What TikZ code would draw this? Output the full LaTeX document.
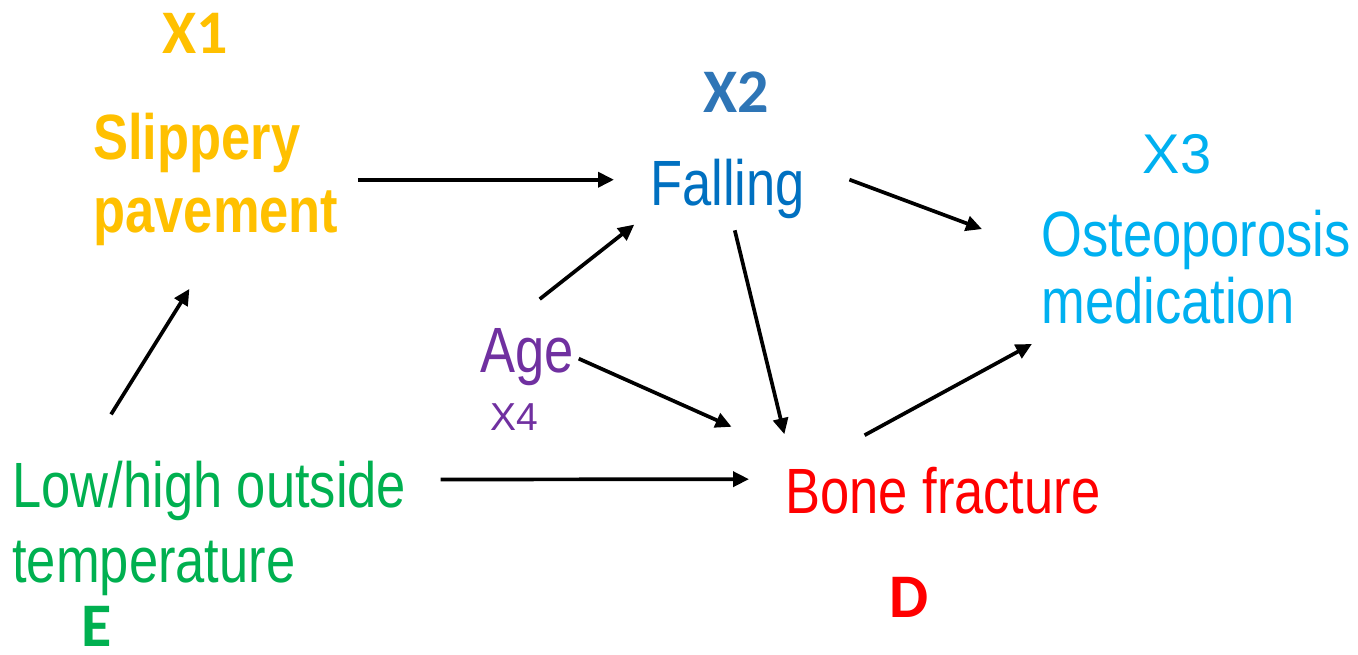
\documentclass[tikz,border=0pt]{standalone}
\usepackage{fontspec}
\usetikzlibrary{arrows.meta}
\newfontfamily\narrowfont{Liberation Sans}[FakeStretch=0.82]
\newfontfamily\arialfont{Liberation Sans}
\newfontfamily\calfont{Carlito}
\definecolor{slipcol}{HTML}{FFC000}
\definecolor{xtwocol}{HTML}{2E75B6}
\definecolor{fallcol}{HTML}{0070C0}
\definecolor{osteocol}{HTML}{00B0F0}
\definecolor{agecol}{HTML}{7030A0}
\definecolor{bonecol}{HTML}{FF0000}
\definecolor{tempcol}{HTML}{00B050}
\begin{document}
\begin{tikzpicture}[x=0.5pt,y=-0.5pt,
  lab/.style={font=\narrowfont\fontsize{32}{36}\selectfont},
  tag/.style={font=\calfont\bfseries\fontsize{31}{36}\selectfont, anchor=base},
  arr/.style={line width=1.85pt, -{Triangle[length=8pt,width=7.5pt]}}]
\tikzstyle{every node}+=[inner sep=0pt]
\useasboundingbox (0,0) rectangle (1358,654);
% labels
\node [tag, slipcol] (xone) at (195,53) {X1};
\node [lab, slipcol, font=\narrowfont\bfseries\fontsize{32}{36.5}\selectfont, align=left, anchor=north west] (slip) at (93,113) {Slippery\\pavement};
\node [tag, xtwocol] (xtwo) at (736,112) {X2};
\node [lab, fallcol, anchor=base west] (fall) at (650,205) {Falling};
\node [osteocol, font=\arialfont\fontsize{28}{32}\selectfont, anchor=base] (xthree) at (1177,173) {X3};
\node [lab, osteocol, font=\narrowfont\fontsize{32}{33.5}\selectfont, align=left, anchor=north west] (osteo) at (1041,210) {Osteoporosis\\medication};
\node [lab, agecol, anchor=base west] (age) at (480,372) {Age};
\node [agecol, font=\arialfont\fontsize{19.5}{22}\selectfont, anchor=base] (xfour) at (514,430) {X4};
\node [lab, tempcol, font=\narrowfont\fontsize{32}{37.5}\selectfont, align=left, anchor=north west] (tempr) at (12,461) {Low/high outside\\temperature};
\node [tag, tempcol] (expo) at (97,646) {E};
\node [lab, bonecol, anchor=base west] (bone) at (785,513) {Bone fracture};
\node [tag, bonecol] (dis) at (909,617) {D};
% arrows
\draw [arr, shorten <=9.5pt, shorten >=18pt] (slip.east) -- (slip.east -| fall.west);
\draw [arr, shorten <=27.5pt, shorten >=25pt] (tempr.152) -- (slip.south);
\draw [arr, shorten <=17pt, shorten >=18pt] (tempr.14) -- (bone.176);
\draw [arr, shorten <=23pt, shorten >=10pt] (age.129) -- (fall.197);
\draw [arr, shorten <=2.5pt, shorten >=48.5pt] (age.east) -- (bone.169);
\draw [arr, shorten <=6pt, shorten >=16.5pt] (fall.278) -- (bone.171);
\draw [arr, shorten <=23.5pt, shorten >=31.5pt] (fall.18) -- (osteo.174);
\draw [arr, shorten <=32.5pt, shorten >=20pt] (bone.170) -- (osteo.204);
\end{tikzpicture}
\end{document}
